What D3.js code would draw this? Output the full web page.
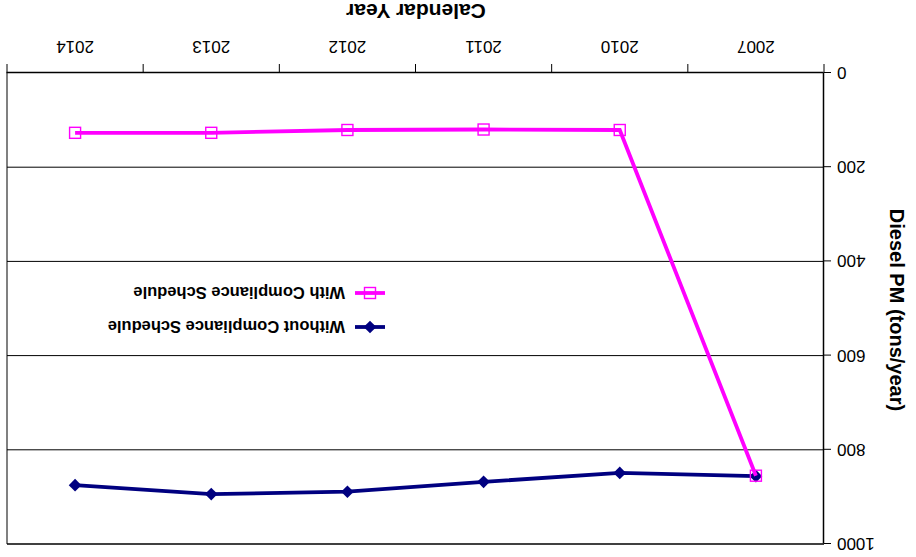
<!DOCTYPE html>
<html>
<head>
<meta charset="utf-8">
<script src="https://cdn.jsdelivr.net/npm/d3@7"></script>
<style>
  html, body { margin: 0; padding: 0; background: #fff; }
  svg { display: block; }
  text { font-family: "Liberation Sans", Arial, sans-serif; }
</style>
</head>
<body>
<svg id="chart" width="916" height="557"></svg>
<script>
// Diesel PM emissions by calendar year
const years = ["2007", "2010", "2011", "2012", "2013", "2014"];
const withSchedule = [855, 121, 120, 121, 127, 127];
const withoutSchedule = [856, 849, 868, 889, 894, 875];
const yTicks = [0, 200, 400, 600, 800, 1000];
const seriesNames = ["Without Compliance Schedule", "With Compliance Schedule"];

const W = 916, H = 557;
const m = { left: 92, right: 7, top: 13, bottom: 73 };
const FONT = '"Liberation Sans", Arial, sans-serif';

const svg = d3.select("#chart");
// whole figure is drawn turned half a revolution
const root = svg.append("g").attr("transform", `rotate(180 ${W / 2} ${H / 2})`);

const x = d3.scaleBand().domain(years).range([m.left, W - m.right]);
const y = d3.scaleLinear().domain([0, 1000]).range([H - m.bottom, m.top]);

// plot frame right edge (gray)
root.append("line")
  .attr("x1", W - m.right).attr("x2", W - m.right)
  .attr("y1", y(1000)).attr("y2", y(0))
  .attr("stroke", "#808080").attr("stroke-width", 2);

// horizontal gridlines
root.append("g").selectAll("line")
  .data(yTicks.filter(d => d > 0))
  .join("line")
  .attr("x1", m.left).attr("x2", W - m.right)
  .attr("y1", d => y(d)).attr("y2", d => y(d))
  .attr("stroke", "#000").attr("stroke-width", d => d === 1000 ? 1.5 : 1);

// y axis
const yAxis = root.append("g")
  .attr("transform", `translate(${m.left},0)`)
  .call(d3.axisLeft(y).tickValues(yTicks).tickFormat(d3.format("d"))
    .tickSize(7).tickPadding(6).tickSizeOuter(0));
yAxis.select(".domain").attr("stroke", "#000").attr("stroke-width", 1.5);
yAxis.selectAll("text").attr("font-size", 17).attr("fill", "#000")
  .style("font-family", FONT);

// x axis
const xAxis = root.append("g")
  .attr("transform", `translate(0,${y(0)})`)
  .call(d3.axisBottom(x).tickSize(0).tickPadding(20));
xAxis.select(".domain").attr("stroke", "#000").attr("stroke-width", 1.5);
xAxis.selectAll("text").attr("font-size", 17).attr("fill", "#000")
  .style("font-family", FONT);
// category separators
root.append("g").selectAll("line")
  .data(years.map(d => x(d)).concat([W - m.right]))
  .join("line")
  .attr("x1", d => d).attr("x2", d => d)
  .attr("y1", y(0)).attr("y2", y(0) + 9)
  .attr("stroke", "#000").attr("stroke-width", 1);

// axis titles
root.append("text")
  .attr("x", 500).attr("y", H - 4)
  .attr("text-anchor", "middle")
  .attr("font-size", 21).attr("font-weight", "bold")
  .text("Calendar Year");
root.append("text")
  .attr("transform", `translate(26,${H - 310}) rotate(-90)`)
  .attr("text-anchor", "middle")
  .attr("font-size", 20).attr("font-weight", "bold")
  .text("Diesel PM (tons/year)");

const cx = d => x(d) + x.bandwidth() / 2;
const line = d3.line().x(d => cx(d.year)).y(d => y(d.v));

const withData = years.map((yr, i) => ({ year: yr, v: withSchedule[i] }));
const withoutData = years.map((yr, i) => ({ year: yr, v: withoutSchedule[i] }));

const NAVY = "#000080", PINK = "#ff00ff";
const LW = 3.8;

// without compliance schedule series
root.append("path").datum(withoutData)
  .attr("d", line).attr("fill", "none")
  .attr("stroke", NAVY).attr("stroke-width", LW);
const diamond = d3.symbol().type(d3.symbolSquare).size(80);
root.append("g").selectAll("path")
  .data(withoutData).join("path")
  .attr("transform", d => `translate(${cx(d.year)},${y(d.v)}) rotate(45)`)
  .attr("d", diamond).attr("fill", NAVY);

// with compliance schedule series
root.append("path").datum(withData)
  .attr("d", line).attr("fill", "none")
  .attr("stroke", PINK).attr("stroke-width", LW);
root.append("g").selectAll("rect")
  .data(withData).join("rect")
  .attr("x", d => cx(d.year) - 5.5).attr("y", d => y(d.v) - 5.5)
  .attr("width", 11).attr("height", 11)
  .attr("fill", "none").attr("stroke", PINK).attr("stroke-width", 1.4);

// legend
const legend = root.append("g").attr("transform", "translate(531,230)");
const rows = legend.selectAll("g").data(seriesNames).join("g")
  .attr("transform", (d, i) => `translate(0,${i * 34})`);
rows.append("line").attr("x1", 0).attr("x2", 30).attr("y1", 0).attr("y2", 0)
  .attr("stroke", (d, i) => i === 0 ? NAVY : PINK).attr("stroke-width", LW);
rows.filter((d, i) => i === 0).append("path")
  .attr("transform", "translate(15,0) rotate(45)").attr("d", diamond).attr("fill", NAVY);
rows.filter((d, i) => i === 1).append("rect")
  .attr("x", 9.5).attr("y", -5.5).attr("width", 11).attr("height", 11)
  .attr("fill", "none").attr("stroke", PINK).attr("stroke-width", 1.4);
rows.append("text").attr("x", 40).attr("y", 6)
  .attr("font-size", 16.5).attr("font-weight", "bold")
  .text(d => d);
</script>
</body>
</html>
